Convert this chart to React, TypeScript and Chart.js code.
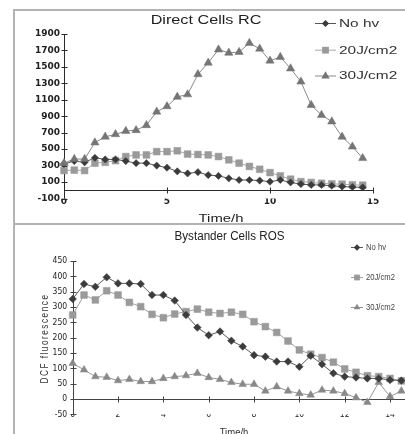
import React, { useEffect, useRef } from "react";
import { Chart, registerables } from "chart.js";

Chart.register(...registerables);

// ---- data ----
const times = [0, 0.5, 1, 1.5, 2, 2.5, 3, 3.5, 4, 4.5, 5, 5.5, 6, 6.5, 7, 7.5, 8, 8.5, 9, 9.5, 10, 10.5, 11, 11.5, 12, 12.5, 13, 13.5, 14, 14.5];
const seriesLabels = ["No hv", "20J/cm2", "30J/cm2"];

// Direct Cells RC
const noHvRC = [320, 355, 340, 395, 375, 375, 355, 330, 330, 300, 275, 230, 205, 220, 185, 175, 145, 125, 125, 118, 105, 125, 95, 75, 65, 65, 55, 45, 40, 35];
const j20RC = [240, 245, 240, 330, 340, 360, 410, 430, 430, 470, 470, 480, 440, 435, 430, 410, 370, 330, 290, 255, 215, 175, 135, 105, 95, 85, 78, 74, 66, 62];
const j30RC = [330, 380, 380, 580, 650, 680, 720, 730, 790, 955, 1020, 1135, 1165, 1410, 1550, 1710, 1670, 1680, 1790, 1720, 1575, 1620, 1480, 1320, 1035, 915, 835, 650, 530, 390];

// Bystander Cells ROS
const noHvROS = [326, 375, 366, 397, 377, 377, 375, 339, 339, 321, 274, 233, 208, 220, 190, 171, 143, 138, 122, 122, 105, 141, 113, 84, 73, 70, 67, 67, 62, 60];
const j20ROS = [274, 339, 323, 353, 339, 315, 301, 276, 265, 277, 285, 293, 283, 279, 283, 276, 252, 236, 217, 189, 160, 146, 135, 120, 98, 87, 76, 73, 67, 59];
const j30ROS = [116, 95, 73, 71, 60, 64, 57, 57, 67, 73, 76, 84, 70, 64, 54, 48, 48, 26, 40, 26, 18, 13, 29, 26, 18, 4, -11, 54, 8, 26];

const NARROW = "'Liberation Sans Narrow', 'DejaVu Sans Condensed', 'Liberation Sans', sans-serif";
const ARIAL = "'Liberation Sans', Arial, sans-serif";

function txt(ctx: CanvasRenderingContext2D, s: string, x: number, y: number, font: string, color: string, sx = 1, align: CanvasTextAlign = "left", rot = 0, spacing = 0, baseline: CanvasTextBaseline = "alphabetic") {
  ctx.save();
  ctx.translate(x, y);
  if (rot) ctx.rotate(rot);
  ctx.scale(sx, 1);
  ctx.font = font;
  ctx.fillStyle = color;
  ctx.textAlign = align;
  ctx.textBaseline = baseline;
  if (spacing) (ctx as any).letterSpacing = spacing + "px";
  ctx.fillText(s, 0, 0);
  ctx.restore();
}

function marker(ctx: CanvasRenderingContext2D, style: string, x: number, y: number, r: number, color: string) {
  ctx.beginPath();
  if (style === "rectRot") {
    ctx.moveTo(x, y - r); ctx.lineTo(x + r, y); ctx.lineTo(x, y + r); ctx.lineTo(x - r, y);
  } else if (style === "rect") {
    const s = r * Math.SQRT1_2;
    ctx.rect(x - s, y - s, 2 * s, 2 * s);
  } else {
    ctx.moveTo(x, y - r); ctx.lineTo(x + r * 0.866, y + r / 2); ctx.lineTo(x - r * 0.866, y + r / 2);
  }
  ctx.closePath();
  ctx.fillStyle = color;
  ctx.fill();
}

function axesPlugin(color: string) {
  return {
    id: "axesCross",
    beforeDatasetsDraw(chart: any) {
      const { ctx, chartArea, scales } = chart;
      const x = scales.x, y = scales.y;
      const x0 = Math.round(chartArea.left) + 0.5;
      const y0 = Math.round(y.getPixelForValue(0)) + 0.5;
      ctx.save();
      ctx.strokeStyle = color;
      ctx.lineWidth = 1;
      ctx.beginPath();
      ctx.moveTo(x0, chartArea.top); ctx.lineTo(x0, chartArea.bottom);
      ctx.moveTo(chartArea.left, y0); ctx.lineTo(chartArea.right, y0);
      y.ticks.forEach((t: any) => {
        const py = Math.round(y.getPixelForValue(t.value)) + 0.5;
        ctx.moveTo(x0 - 3, py); ctx.lineTo(x0 + 3, py);
      });
      x.ticks.forEach((t: any) => {
        const px = Math.round(x.getPixelForValue(t.value)) + 0.5;
        ctx.moveTo(px, y0 - 3); ctx.lineTo(px, y0 + 3);
      });
      ctx.stroke();
      ctx.restore();
    },
  };
}

function makeDataset(label: string, values: number[], style: string, r: number, fill: string, line: string, order: number) {
  return {
    label,
    data: times.map((t, i) => ({ x: t, y: values[i] })),
    borderColor: line,
    borderWidth: 1,
    pointStyle: style,
    pointRadius: r,
    pointBackgroundColor: fill,
    pointBorderColor: fill,
    pointBorderWidth: 0.5,
    tension: 0,
    clip: false,
    order,
  };
}

const plain = (v: any) => String(v);

export default function App() {
  const topRef = useRef<HTMLCanvasElement>(null);
  const botRef = useRef<HTMLCanvasElement>(null);

  useEffect(() => {
    const topStyles = [
      { style: "rectRot", r: 3.6, fill: "#3a3a3a", line: "#555" },
      { style: "rect", r: 4.8, fill: "#9a9a9a", line: "#a8a8a8" },
      { style: "triangle", r: 4.8, fill: "#757575", line: "#8a8a8a" },
    ];
    const top = new Chart(topRef.current as HTMLCanvasElement, {
      type: "line",
      data: {
        datasets: [
          makeDataset(seriesLabels[0], noHvRC, topStyles[0].style, topStyles[0].r, topStyles[0].fill, topStyles[0].line, 1),
          makeDataset(seriesLabels[1], j20RC, topStyles[1].style, topStyles[1].r, topStyles[1].fill, topStyles[1].line, 2),
          makeDataset(seriesLabels[2], j30RC, topStyles[2].style, topStyles[2].r, topStyles[2].fill, topStyles[2].line, 0),
        ] as any,
      },
      options: {
        responsive: false,
        animation: false,
        events: [],
        layout: { padding: { left: 0, top: 23, right: 32, bottom: 0 } },
        plugins: { legend: { display: false }, title: { display: false }, tooltip: { enabled: false } },
        scales: {
          x: {
            type: "linear", min: 0, max: 15,
            grid: { display: false, drawTicks: false }, border: { display: false },
            ticks: { stepSize: 5, padding: -2, maxRotation: 0, autoSkip: false, color: "#222", callback: plain, font: { family: "'DejaVu Sans', sans-serif", size: 9, weight: "bold" } },
            afterFit: (s: any) => { s.height = 24.5; },
          },
          y: {
            type: "linear", min: -100, max: 1900,
            grid: { display: false, drawTicks: false }, border: { display: false },
            ticks: { stepSize: 200, padding: 4, autoSkip: false, color: "#222", callback: plain, font: { family: "'DejaVu Sans', sans-serif", size: 9, weight: "bold" } },
            afterFit: (s: any) => { s.width = 49; },
          },
        },
      } as any,
      plugins: [
        axesPlugin("#2a2a2a"),
        {
          id: "decorTop",
          afterDraw(chart: any) {
            const ctx = chart.ctx as CanvasRenderingContext2D;
            txt(ctx, "Direct Cells RC", 191, 13, `12px ${ARIAL}`, "#222", 1.35, "center");
            txt(ctx, "Time/h", 206, 211, `11px ${ARIAL}`, "#222", 1.35, "center");
            const ys = [12, 38.7, 64.5];
            seriesLabels.forEach((lab, i) => {
              const st = topStyles[i];
              ctx.save();
              ctx.strokeStyle = st.line; ctx.lineWidth = 1;
              ctx.beginPath(); ctx.moveTo(300, ys[i] + 0.5); ctx.lineTo(321, ys[i] + 0.5); ctx.stroke();
              ctx.restore();
              marker(ctx, st.style, 310.5, ys[i] + 0.5, st.r, st.fill);
              txt(ctx, lab, 324, ys[i] + 3.8, `11px ${ARIAL}`, "#333", 1.4, "left");
            });
          },
        },
      ],
    });

    const botStyles = [
      { style: "rectRot", r: 3.8, fill: "#3c3c3c", line: "#5a5a5a" },
      { style: "rect", r: 4.8, fill: "#9a9a9a", line: "#a0a0a0" },
      { style: "triangle", r: 4.4, fill: "#888888", line: "#969696" },
    ];
    const bot = new Chart(botRef.current as HTMLCanvasElement, {
      type: "line",
      data: {
        datasets: [
          makeDataset(seriesLabels[0], noHvROS, botStyles[0].style, botStyles[0].r, botStyles[0].fill, botStyles[0].line, 0),
          makeDataset(seriesLabels[1], j20ROS, botStyles[1].style, botStyles[1].r, botStyles[1].fill, botStyles[1].line, 1),
          makeDataset(seriesLabels[2], j30ROS, botStyles[2].style, botStyles[2].r, botStyles[2].fill, botStyles[2].line, 2),
        ] as any,
      },
      options: {
        responsive: false,
        animation: false,
        events: [],
        layout: { padding: { left: 0, top: 36, right: 22.3, bottom: 0 } },
        plugins: { legend: { display: false }, title: { display: false }, tooltip: { enabled: false } },
        scales: {
          x: {
            type: "linear", min: 0, max: 15,
            grid: { display: false, drawTicks: false }, border: { display: false },
            ticks: { stepSize: 2, padding: -5, maxRotation: 0, autoSkip: false, color: "#222", callback: plain, font: { family: NARROW, size: 8.5 } },
            afterBuildTicks: (s: any) => { s.ticks = s.ticks.filter((t: any) => t.value % 2 === 0); },
            afterFit: (s: any) => { s.height = 25.7; },
          },
          y: {
            type: "linear", min: -50, max: 450,
            grid: { display: false, drawTicks: false }, border: { display: false },
            ticks: { stepSize: 50, padding: 5.5, autoSkip: false, color: "#222", callback: plain, font: { family: NARROW, size: 8.5 } },
            afterFit: (s: any) => { s.width = 57.7; },
          },
        },
      } as any,
      plugins: [
        axesPlugin("#444"),
        {
          id: "decorBot",
          afterDraw(chart: any) {
            const ctx = chart.ctx as CanvasRenderingContext2D;
            txt(ctx, "Bystander Cells ROS", 214.5, 15, `12px ${ARIAL}`, "#222", 0.97, "center");
            txt(ctx, "Time/h", 219, 211, `10px ${ARIAL}`, "#333", 0.95, "center");
            txt(ctx, "DCF fluorescence", 30, 113.5, `11px ${ARIAL}`, "#333", 0.75, "center", -Math.PI / 2, 2, "middle");
            const ys = [22, 52, 82];
            seriesLabels.forEach((lab, i) => {
              const st = botStyles[i];
              ctx.save();
              ctx.strokeStyle = st.line; ctx.lineWidth = 1;
              ctx.beginPath(); ctx.moveTo(336, ys[i] + 0.5); ctx.lineTo(348, ys[i] + 0.5); ctx.stroke();
              ctx.restore();
              marker(ctx, st.style, 342, ys[i] + 0.5, st.r * 0.85, st.fill);
              txt(ctx, lab, 351, ys[i] + 3.3, `9px ${ARIAL}`, "#444", 0.85, "left");
            });
          },
        },
      ],
    });

    return () => { top.destroy(); bot.destroy(); };
  }, []);

  const frame = "2px solid #b3b3b3";
  return (
    <div style={{ position: "fixed", left: 0, top: 0, width: 405, height: 434, overflow: "hidden", background: "#fff" }}>
      <div style={{ position: "absolute", left: 13, top: 9, width: 600, height: 400, borderLeft: frame, borderTop: frame, boxSizing: "border-box" }} />
      <canvas ref={topRef} width={390} height={212} style={{ position: "absolute", left: 15, top: 11, width: 390, height: 212 }} />
      <div style={{ position: "absolute", left: 13, top: 223, width: 600, height: 400, borderLeft: frame, borderTop: frame, boxSizing: "border-box", background: "#fff" }} />
      <canvas ref={botRef} width={420} height={215} style={{ position: "absolute", left: 15, top: 225, width: 420, height: 215 }} />
    </div>
  );
}
